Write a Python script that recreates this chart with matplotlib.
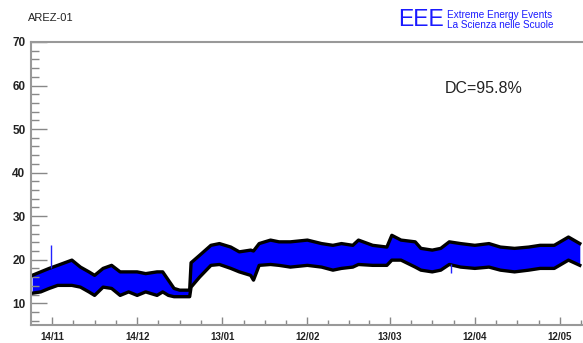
import matplotlib
matplotlib.use("Agg")
import matplotlib.pyplot as plt
import pandas as pd

plt.rcParams['font.family'] = ['Liberation Sans', 'DejaVu Sans']

# envelope of the rate band (Hz)
dates = ["2014-11-07", "2014-11-10", "2014-11-13", "2014-11-16", "2014-11-21",
         "2014-11-24", "2014-11-27", "2014-11-29", "2014-12-02", "2014-12-05",
         "2014-12-08", "2014-12-11", "2014-12-14", "2014-12-17", "2014-12-21",
         "2014-12-23", "2014-12-25", "2014-12-27", "2014-12-29", "2015-01-01 12:00",
         "2015-01-02", "2015-01-05", "2015-01-09", "2015-01-12", "2015-01-16",
         "2015-01-19", "2015-01-23", "2015-01-24", "2015-01-26", "2015-01-30",
         "2015-02-02", "2015-02-06", "2015-02-12", "2015-02-17", "2015-02-21",
         "2015-02-24", "2015-02-28", "2015-03-02", "2015-03-07", "2015-03-12",
         "2015-03-13 18:00", "2015-03-17", "2015-03-22", "2015-03-24", "2015-03-28",
         "2015-03-31", "2015-04-03", "2015-04-07", "2015-04-12", "2015-04-17",
         "2015-04-21", "2015-04-26", "2015-05-01", "2015-05-05", "2015-05-10",
         "2015-05-15", "2015-05-19"]
upper = [16.4, 17.2, 18.0, 18.7, 19.9, 18.3, 17.2, 16.4, 18.0, 18.7,
         17.2, 17.2, 17.2, 16.8, 17.2, 17.2, 15.3, 13.4, 13.0, 13.0,
         19.3, 21.0, 23.3, 23.7, 22.9, 21.8, 22.2, 22.0, 23.7, 24.5,
         24.1, 24.1, 24.5, 23.7, 23.3, 23.7, 23.3, 24.5, 23.3, 22.9,
         25.6, 24.5, 24.1, 22.6, 22.2, 22.6, 24.1, 23.7, 23.3, 23.7,
         22.9, 22.6, 22.9, 23.3, 23.3, 25.2, 23.7]
lower = [12.3, 12.6, 13.4, 14.1, 14.1, 13.7, 12.6, 11.8, 13.7, 13.4,
         11.8, 12.6, 11.8, 12.6, 11.8, 12.6, 11.8, 11.5, 11.5, 11.5,
         13.7, 16.0, 18.7, 18.9, 18.0, 17.2, 16.4, 15.3, 18.7, 18.9,
         18.7, 18.3, 18.7, 18.3, 17.6, 18.0, 18.3, 18.9, 18.7, 18.7,
         19.9, 19.9, 18.3, 17.6, 17.2, 17.6, 18.9, 18.3, 18.0, 18.3,
         17.6, 17.2, 17.6, 18.0, 18.0, 19.9, 18.7]

# isolated spikes: date, low, high
spike_dates = ["2014-11-13 12:00", "2015-04-03 12:00"]
spike_low = [18.0, 16.9]
spike_high = [23.3, 19.0]

tick_dates = ["2014-11-14", "2014-12-14", "2015-01-13", "2015-02-12",
              "2015-03-13", "2015-04-12", "2015-05-12"]
tick_labels = ["14/11", "14/12", "13/01", "12/02", "13/03", "12/04", "12/05"]

t = pd.to_datetime(dates, format="mixed")
ticks = pd.to_datetime(tick_dates)

fig = plt.figure(figsize=(5.83, 3.43), dpi=100)
ax = fig.add_axes([31 / 583, 1 - 325 / 343, 552 / 583, 283 / 343])

ax.fill_between(t, lower, upper, color="#0000ff", lw=0)
ax.plot(t, upper, color="black", lw=2.4)
ax.plot(t, lower, color="black", lw=2.4)
ax.vlines(pd.to_datetime(spike_dates, format="mixed"), spike_low, spike_high,
          color="#2222ff", lw=1)

ax.set_xticks(ticks)
ax.set_xticklabels(tick_labels)
minor = []
for a, b in zip(ticks[:-1], ticks[1:]):
    step = (b - a) / 4
    minor += [a + step * k for k in (1, 2, 3)]
minor.append(ticks[0] - (ticks[1] - ticks[0]) / 4 * 3)
minor += [ticks[-1] + (ticks[-1] - ticks[-2]) / 4 * k for k in (1, 2)]
ax.set_xticks(minor, minor=True)
ax.set_yticks(range(10, 71, 10))
ax.set_yticks([v for v in range(6, 70, 2) if v % 10], minor=True)

ax.set_xlim(pd.Timestamp("2014-11-06 14:00"), pd.Timestamp("2015-05-20 03:00"))
ax.set_ylim(5, 70)

ax.tick_params(axis="y", which="major", direction="in", length=11.5, width=1,
               color="#888888", labelsize=8.5, labelcolor="#222222", pad=4)
ax.tick_params(axis="y", which="minor", direction="in", length=5.8, width=1,
               color="#888888")
ax.tick_params(axis="x", which="major", direction="in", length=6, width=1,
               color="#888888", labelsize=7, labelcolor="#222222", pad=5)
ax.tick_params(axis="x", which="minor", direction="in", length=3.5, width=1,
               color="#888888")
for lab in ax.get_yticklabels() + ax.get_xticklabels():
    lab.set_fontweight("bold")

for side in ("left", "bottom", "top"):
    ax.spines[side].set_color("#999999")
    ax.spines[side].set_linewidth(1.5)
ax.spines["right"].set_visible(False)

fig.text(28 / 583, 1 - 18 / 343, "AREZ-01", fontsize=8, color="#222222",
         va="center", ha="left")
fig.text(398 / 583, 1 - 20 / 343, "EEE", fontsize=16.5, color="#1a1aff",
         va="center", ha="left")
fig.text(447 / 583, 1 - 15 / 343, "Extreme Energy Events", fontsize=7.2,
         color="#1a1aff", va="center", ha="left")
fig.text(447 / 583, 1 - 25.5 / 343, "La Scienza nelle Scuole", fontsize=7.2,
         color="#1a1aff", va="center", ha="left")
fig.text(445 / 583, 1 - 88.5 / 343, "DC=95.8%", fontsize=11.5, color="#222222",
         va="center", ha="left")

fig.savefig("out.png", dpi=100)
